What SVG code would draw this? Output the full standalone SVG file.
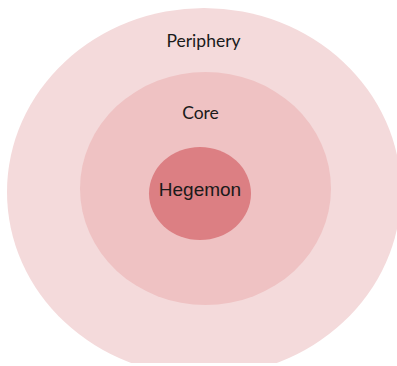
<svg xmlns="http://www.w3.org/2000/svg" width="397" height="366" viewBox="0 0 397 366">
  <style>
    .lbl { font-family: Lato, "Noto Sans", sans-serif; font-size: 17.5px; fill: #1a1a1a; text-anchor: middle; }
    .heg { font-family: "Liberation Sans", Arial, sans-serif; font-size: 19px; fill: #1a1a1a; text-anchor: middle; }
  </style>
  <defs>
    <clipPath id="clip"><rect x="0" y="0" width="397" height="363"/></clipPath>
  </defs>
  <rect width="397" height="366" fill="#ffffff"/>
  <g id="periphery" clip-path="url(#clip)">
    <ellipse cx="204" cy="192" rx="197" ry="184" fill="#F4DADB"/>
    <text class="lbl" x="203.5" y="47">Periphery</text>
  </g>
  <g id="core">
    <ellipse cx="205.5" cy="188.5" rx="125.5" ry="116.5" fill="#EFC2C3"/>
    <text class="lbl" x="200.5" y="119">Core</text>
  </g>
  <g id="hegemon">
    <ellipse cx="200" cy="193.5" rx="51" ry="46.5" fill="#DC7F83"/>
    <text class="heg" x="200" y="196">Hegemon</text>
  </g>
  <g id="connectors"/>
</svg>
